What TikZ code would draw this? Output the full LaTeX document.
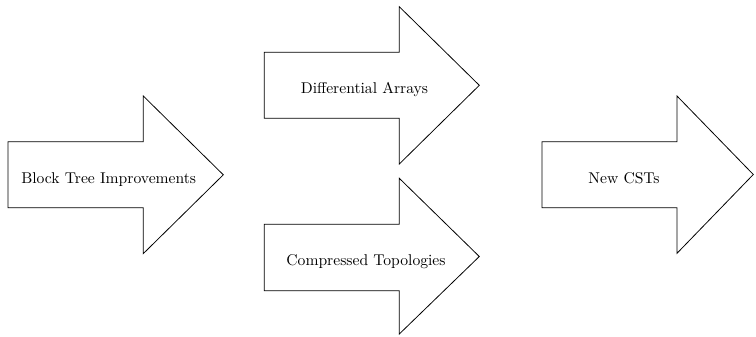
\documentclass[tikz,border=0pt]{standalone}
\begin{document}
\begin{tikzpicture}[x=0.64pt,y=-0.64pt,
  bigarrow/.style={draw=black, line width=0.5pt, line join=miter, fill=white},
  arrowtext/.style={inner sep=0pt, anchor=base}]
\useasboundingbox (0,0) rectangle (756,336);
% Block Tree Improvements
\draw[bigarrow] (8,141.7) -- (143.3,141.7) -- (143.3,96) -- (223.3,174.8)
  -- (143.3,253.6) -- (143.3,207.7) -- (8,207.7) -- cycle;
\node[arrowtext] (bti) at (108.7,183) {Block Tree Improvements};
% Differential Arrays
\draw[bigarrow] (264.3,52.3) -- (399.3,52.3) -- (399.3,6.7) -- (479.3,85.3)
  -- (399.3,164) -- (399.3,118.3) -- (264.3,118.3) -- cycle;
\node[arrowtext] (da) at (364.5,93.5) {Differential Arrays};
% Compressed Topologies
\draw[bigarrow] (264.3,224.3) -- (399.3,224.3) -- (399.3,178.3) -- (479.3,256.5)
  -- (399.3,334) -- (399.3,290.7) -- (264.3,290.7) -- cycle;
\node[arrowtext] (ct) at (366,265) {Compressed Topologies};
% New CSTs
\draw[bigarrow] (542,141.7) -- (677,141.7) -- (677,96) -- (753.3,174.5)
  -- (677,253.3) -- (677,207.7) -- (542,207.7) -- cycle;
\node[arrowtext] (cst) at (624,183) {New CSTs};
\end{tikzpicture}
\end{document}
